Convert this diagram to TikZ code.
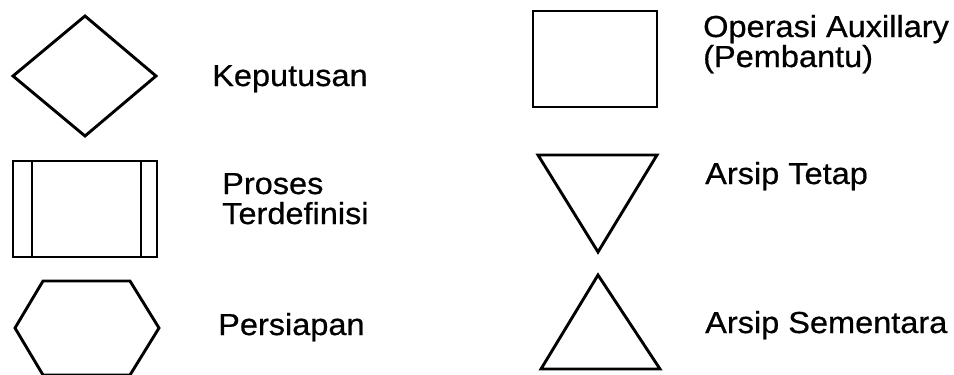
\documentclass[tikz,border=0pt]{standalone}
\usepackage{fontspec}
\setmainfont{Liberation Sans}[FakeStretch=1.07,FakeBold=0.6]
\begin{document}
\begin{tikzpicture}[x=1bp,y=-1bp,
  shp/.style={draw=black,line width=2.9bp,line join=miter},
  lbl/.style={anchor=base west,inner sep=0pt,font=\fontsize{30.5}{34}\selectfont}]
\useasboundingbox (0,0) rectangle (954,374);
\begin{scope}
\clip (0,0) rectangle (954,374);
% Keputusan (diamond)
\draw[shp] (13,76) -- (85,16) -- (156,76) -- (85,136) -- cycle;
% Proses Terdefinisi
\draw[shp] (13,161) rectangle (157,257);
\draw[shp] (32,161) -- (32,257);
\draw[shp] (141,161) -- (141,257);
% Persiapan (hexagon)
\draw[shp] (43,281) -- (130,281) -- (159,328) -- (130,375) -- (43,375) -- (15,328) -- cycle;
% Operasi Auxillary
\draw[shp] (533,11) rectangle (657,107);
% Arsip Tetap
\draw[shp] (538,155) -- (657,155) -- (598,252) -- cycle;
% Arsip Sementara
\draw[shp] (598,275) -- (660,369) -- (541,369) -- cycle;
\end{scope}
\node[lbl] (kep) at (212,86) {Keputusan};
\node[lbl] (pro1) at (222,194) {Proses};
\node[lbl] (pro2) at (222,224) {Terdefinisi};
\node[lbl] (per) at (218,335) {Persiapan};
\node[lbl] (op1) at (703,37) {Operasi Auxillary};
\node[lbl] (op2) at (703,67) {(Pembantu)};
\node[lbl] (at) at (705,184) {Arsip Tetap};
\node[lbl] (as) at (705,333) {Arsip Sementara};
\end{tikzpicture}
\end{document}
